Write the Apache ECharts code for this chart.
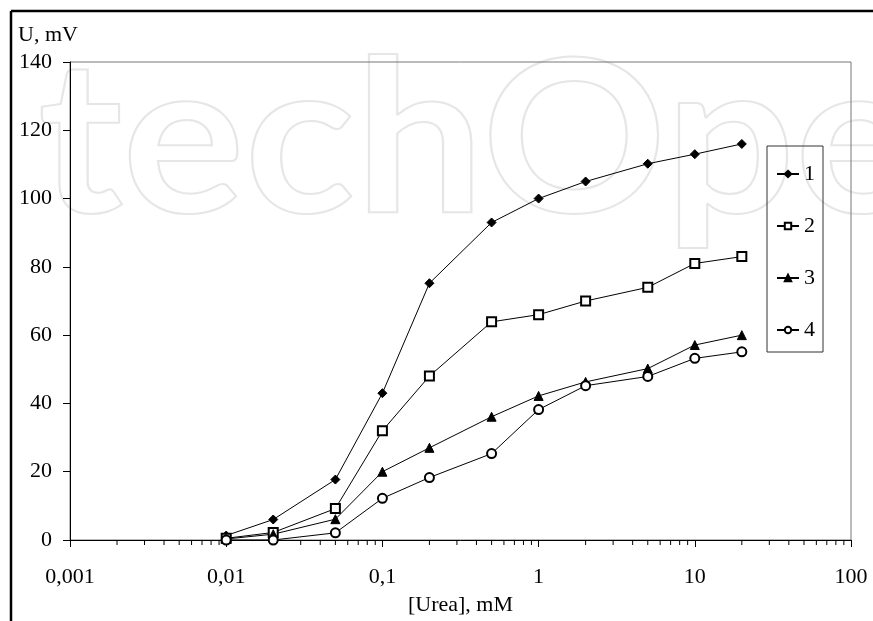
<!DOCTYPE html>
<html>
<head>
<meta charset="utf-8">
<script src="https://cdn.jsdelivr.net/npm/echarts@6/dist/echarts.min.js"></script>
<style>
  html, body { margin: 0; padding: 0; background: #fff; }
  #chart { width: 873px; height: 621px; }
</style>
</head>
<body>
<div id="chart"></div>
<script>
// urea concentration, mM
const ureaConc = [0.01, 0.02, 0.05, 0.1, 0.2, 0.5, 1, 2, 5, 10, 20];
// signal U, mV for curves 1..4
const curve1 = [1.3, 6, 17.7, 43, 75.2, 93, 100, 105, 110.2, 113, 116];
const curve2 = [0.5, 2.2, 9.2, 32, 48, 63.9, 66, 70, 74, 81, 83];
const curve3 = [0.3, 1.7, 6.1, 20, 27, 36.1, 42.2, 46.3, 50.2, 57.1, 60];
const curve4 = [0, 0, 2.1, 12.2, 18.3, 25.3, 38.2, 45.2, 47.9, 53.2, 55.1];
const curveNames = ["1", "2", "3", "4"];
const xTickLabels = ["0,001", "0,01", "0,1", "1", "10", "100"];
// minor ticks of the log axis (2..9 in each decade)
const decades = [0.001, 0.01, 0.1, 1, 10];
const minorSteps = [2, 3, 4, 5, 6, 7, 8, 9];

const FONT = "'Liberation Serif', 'DejaVu Serif', serif";

let minorTicks = [];
decades.forEach(function (d) {
    minorSteps.forEach(function (m) {
        minorTicks.push([+(d * m).toPrecision(3), 0]);
    });
});

function pairs(values) {
    return ureaConc.map(function (x, i) {
        return [x, values[i]];
    });
}

function lineSeries(name, values, symbol, size) {
    return {
        name: name,
        type: "line",
        data: pairs(values),
        symbol: symbol,
        symbolSize: size,
        lineStyle: { color: "#000", width: 1 },
        itemStyle: { color: "#000", borderColor: "#000", borderWidth: 1 },
        emphasis: { disabled: true },
        z: 3
    };
}

const chart = echarts.init(document.getElementById("chart"));
chart.setOption({
    animation: false,
    backgroundColor: "#fff",
    textStyle: { fontFamily: FONT },
    grid: {
        left: 70,
        right: 22,
        top: 62,
        bottom: 81,
        show: true,
        borderColor: "#777",
        borderWidth: 1
    },
    legend: {
        data: curveNames,
        orient: "vertical",
        left: 767,
        top: 146,
        itemWidth: 22,
        itemHeight: 8,
        itemGap: 30,
        padding: [17, 8, 11, 9],
        borderColor: "#333",
        borderWidth: 1,
        textStyle: {
            fontFamily: FONT,
            fontSize: 22,
            lineHeight: 22,
            color: "#000"
        }
    },
    xAxis: {
        type: "log",
        logBase: 10,
        min: 0.001,
        max: 100,
        name: "[Urea], mM",
        nameLocation: "middle",
        nameGap: 54,
        nameTextStyle: { fontFamily: FONT, fontSize: 22, color: "#000" },
        axisLine: { lineStyle: { color: "#000", width: 1 } },
        axisTick: { show: true, length: 7, lineStyle: { color: "#000" } },
        splitLine: { show: false },
        axisLabel: {
            margin: 26,
            fontFamily: FONT,
            fontSize: 22,
            color: "#000",
            formatter: function (v) {
                return xTickLabels[Math.round(Math.log10(v)) + 3];
            }
        }
    },
    yAxis: {
        type: "value",
        min: 0,
        max: 140,
        interval: 20,
        axisLine: { show: true, lineStyle: { color: "#000", width: 1 } },
        axisTick: { show: true, length: 7, lineStyle: { color: "#000" } },
        splitLine: { show: false },
        axisLabel: {
            margin: 18,
            fontFamily: FONT,
            fontSize: 22,
            color: "#000"
        }
    },
    graphic: [
        // faint watermark
        {
            type: "text",
            x: 38,
            y: 38,
            scaleX: 1.08,
            z: -10,
            silent: true,
            style: {
                text: "techOpen",
                font: "700 212px Lato",
                fill: "none",
                stroke: "#e6e6e6",
                lineWidth: 2
            }
        },
        {
            type: "text",
            left: 18,
            top: 24,
            style: {
                text: "U, mV",
                font: "22px " + FONT,
                fill: "#000"
            }
        },
        // outer frame (top and left edges)
        {
            type: "line",
            shape: { x1: 11, y1: 11, x2: 873, y2: 11 },
            style: { stroke: "#000", lineWidth: 2.5 }
        },
        {
            type: "line",
            shape: { x1: 11, y1: 11, x2: 11, y2: 621 },
            style: { stroke: "#000", lineWidth: 2.5 }
        }
    ],
    series: [
        lineSeries("1", curve1, "diamond", 9),
        lineSeries("2", curve2, "emptyRect", 9),
        lineSeries("3", curve3, "triangle", 9),
        lineSeries("4", curve4, "emptyCircle", 9),
        {
            type: "custom",
            silent: true,
            clip: false,
            data: minorTicks,
            renderItem: function (params, api) {
                const p = api.coord([api.value(0), 0]);
                return {
                    type: "line",
                    shape: { x1: p[0], y1: p[1], x2: p[0], y2: p[1] + 5 },
                    style: { stroke: "#000", lineWidth: 1 }
                };
            }
        }
    ]
});
</script>
</body>
</html>
